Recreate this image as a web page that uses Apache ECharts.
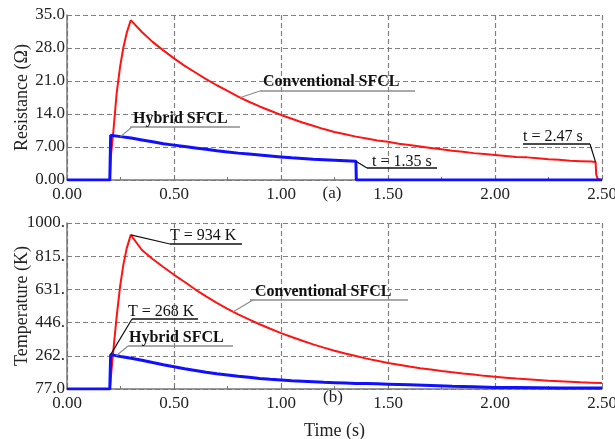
<!DOCTYPE html>
<html>
<head>
<meta charset="utf-8">
<script src="https://cdn.jsdelivr.net/npm/echarts@6/dist/echarts.min.js"></script>
<style>
  html, body { margin: 0; padding: 0; background: #fff; }
  #chart { width: 615px; height: 439px; }
</style>
</head>
<body>
<div id="chart"></div>
<script>
// Time axis (s)
const timeTicks = [0, 0.5, 1.0, 1.5, 2.0, 2.5];
const timeTickLabels = ['0.00', '0.50', '1.00', '1.50', '2.00', '2.50'];

// Resistance axis (Ω)
const resTicks = [0, 7, 14, 21, 28, 35];
const resTickLabels = ['0.00', '7.00', '14.0', '21.0', '28.0', '35.0'];

// Temperature axis (K)
const tempTicks = [77, 261.6, 446.2, 630.8, 815.4, 1000];
const tempTickLabels = ['77.0', '262.', '446.', '631.', '815.', '1000.'];

// Resistance of the conventional SFCL, [t (s), R (Ω)]
const resConventional = [
  [0, 0], [0.2, 0], [0.205, 5], [0.216, 10], [0.232, 18.4], [0.248, 24], [0.263, 28],
  [0.279, 31.2], [0.298, 33.9], [0.35, 31.4], [0.40, 29.3], [0.45, 27.5], [0.50, 25.8],
  [0.55, 24.2], [0.60, 22.8], [0.65, 21.4], [0.70, 20.1], [0.75, 18.9], [0.80, 17.7],
  [0.85, 16.6], [0.90, 15.6], [0.95, 14.7], [1.00, 13.8], [1.05, 13.0], [1.10, 12.2],
  [1.15, 11.5], [1.20, 10.8], [1.25, 10.2], [1.30, 9.7], [1.35, 9.2], [1.40, 8.8],
  [1.45, 8.4], [1.50, 8.1], [1.55, 7.7], [1.60, 7.4], [1.65, 7.1], [1.70, 6.8],
  [1.75, 6.5], [1.80, 6.2], [1.85, 6.0], [1.90, 5.7], [1.95, 5.5], [2.00, 5.3],
  [2.05, 5.1], [2.10, 4.9], [2.15, 4.8], [2.20, 4.6], [2.25, 4.4], [2.30, 4.3],
  [2.35, 4.1], [2.40, 4.0], [2.45, 3.9], [2.47, 3.8], [2.473, 1.2], [2.48, 0.2], [2.50, 0]
];

// Resistance of the hybrid SFCL, [t (s), R (Ω)]
const resHybrid = [
  [0, 0], [0.2, 0], [0.204, 9.5], [0.25, 9.2], [0.30, 8.9], [0.35, 8.5], [0.40, 8.1],
  [0.45, 7.7], [0.50, 7.4], [0.55, 7.1], [0.60, 6.8], [0.65, 6.5], [0.70, 6.2],
  [0.75, 5.95], [0.80, 5.7], [0.85, 5.5], [0.90, 5.3], [0.95, 5.1], [1.00, 4.9],
  [1.05, 4.7], [1.10, 4.55], [1.15, 4.4], [1.20, 4.3], [1.25, 4.2], [1.30, 4.1],
  [1.35, 4.0], [1.352, 0], [2.50, 0]
];

// Temperature of the conventional SFCL, [t (s), T (K)]
const tempConventional = [
  [0, 77], [0.2, 77], [0.216, 284], [0.232, 479], [0.248, 646], [0.263, 766],
  [0.279, 859], [0.298, 934], [0.35, 850], [0.40, 800], [0.45, 755], [0.50, 712],
  [0.55, 672], [0.60, 630], [0.65, 592], [0.70, 556], [0.75, 523], [0.80, 492],
  [0.85, 464], [0.90, 437], [0.95, 412], [1.00, 388], [1.05, 366], [1.10, 345],
  [1.15, 325], [1.20, 307], [1.25, 290], [1.30, 274], [1.35, 260], [1.40, 246],
  [1.45, 234], [1.50, 222], [1.55, 212], [1.60, 202], [1.65, 193], [1.70, 185],
  [1.75, 177], [1.80, 170], [1.85, 163], [1.90, 157], [1.95, 150], [2.00, 145],
  [2.05, 140], [2.10, 135], [2.15, 131], [2.20, 127], [2.25, 123], [2.30, 120],
  [2.35, 117], [2.40, 114], [2.45, 112], [2.50, 110]
];

// Temperature of the hybrid SFCL, [t (s), T (K)]
const tempHybrid = [
  [0, 77], [0.2, 77], [0.204, 268], [0.25, 258], [0.30, 248], [0.35, 237], [0.40, 224],
  [0.45, 212], [0.50, 201], [0.55, 190], [0.60, 180], [0.65, 170], [0.70, 162],
  [0.75, 155], [0.80, 148], [0.85, 142], [0.90, 136], [0.95, 131], [1.00, 127],
  [1.05, 123], [1.10, 120], [1.15, 117], [1.20, 114], [1.25, 112], [1.30, 110],
  [1.35, 108], [1.40, 107], [1.45, 106], [1.50, 104], [1.60, 100], [1.70, 96],
  [1.80, 92], [1.90, 89], [2.00, 86], [2.10, 85], [2.20, 84], [2.30, 83],
  [2.40, 82], [2.50, 82]
];

const FONT = '"Liberation Serif", "Times New Roman", serif';
const RED = '#ff1414';
const BLUE = '#1010ff';
const GRID_LINE = { show: true, lineStyle: { color: '#808080', width: 1.2, type: [5, 3] } };

function xAxisFor(gridIndex, withName) {
  return {
    type: 'value', gridIndex, min: 0, max: 2.5, interval: 0.5,
    axisLine: { show: true, onZero: false, lineStyle: { color: '#777', width: 1.5 } },
    axisTick: { show: true, inside: true, length: 4, lineStyle: { color: '#777' } },
    minorTick: { show: true, splitNumber: 2, length: 3, lineStyle: { color: '#777' } },
    axisLabel: {
      margin: 6, color: '#222', fontFamily: FONT, fontSize: 17,
      formatter: v => timeTickLabels[timeTicks.findIndex(t => Math.abs(t - v) < 1e-6)] ?? ''
    },
    splitLine: GRID_LINE,
    name: withName ? 'Time (s)' : '',
    nameLocation: 'middle', nameGap: 33, nameMoveOverlap: false,
    nameTextStyle: { color: '#222', fontFamily: FONT, fontSize: 18, verticalAlign: 'top' }
  };
}

const chart = echarts.init(document.getElementById('chart'), null, { renderer: 'canvas' });

chart.setOption({
  animation: false,
  backgroundColor: '#fff',
  grid: [
    { left: 67, top: 15, width: 535, height: 165, outerBoundsMode: 'none', containLabel: false },
    { left: 67, top: 223, width: 535, height: 166, outerBoundsMode: 'none', containLabel: false }
  ],
  xAxis: [xAxisFor(0, false), xAxisFor(1, true)],
  yAxis: [
    {
      type: 'value', gridIndex: 0, min: 0, max: 35, interval: 7,
      axisLine: { show: true, lineStyle: { color: '#777', width: 1.5 } },
      axisTick: { show: true, inside: true, length: 3, lineStyle: { color: '#777' } },
      axisLabel: {
        margin: 2, color: '#222', fontFamily: FONT, fontSize: 17,
        formatter: v => resTickLabels[resTicks.indexOf(v)] ?? ''
      },
      splitLine: GRID_LINE,
      name: 'Resistance (Ω)', nameLocation: 'middle', nameGap: 36, nameRotate: 90,
      nameMoveOverlap: false,
      nameTextStyle: { color: '#222', fontFamily: FONT, fontSize: 18 }
    },
    {
      type: 'value', gridIndex: 1, min: 77, max: 1000,
      axisLine: { show: true, lineStyle: { color: '#777', width: 1.5 } },
      axisTick: { show: true, inside: true, length: 3, customValues: tempTicks, lineStyle: { color: '#777' } },
      axisLabel: {
        margin: 2, color: '#222', fontFamily: FONT, fontSize: 17, customValues: tempTicks,
        formatter: v => tempTickLabels[tempTicks.findIndex(t => Math.abs(t - v) < 1e-6)] ?? ''
      },
      splitLine: GRID_LINE,
      name: 'Temperature (K)', nameLocation: 'middle', nameGap: 36, nameRotate: 90,
      nameMoveOverlap: false,
      nameTextStyle: { color: '#222', fontFamily: FONT, fontSize: 18 }
    }
  ],
  series: [
    { name: 'Conventional SFCL', type: 'line', xAxisIndex: 0, yAxisIndex: 0, data: resConventional,
      showSymbol: false, lineStyle: { color: RED, width: 2 }, z: 3 },
    { name: 'Hybrid SFCL', type: 'line', xAxisIndex: 0, yAxisIndex: 0, data: resHybrid,
      showSymbol: false, lineStyle: { color: BLUE, width: 3 }, z: 4 },
    { name: 'Conventional SFCL', type: 'line', xAxisIndex: 1, yAxisIndex: 1, data: tempConventional,
      showSymbol: false, lineStyle: { color: RED, width: 2 }, z: 3 },
    { name: 'Hybrid SFCL', type: 'line', xAxisIndex: 1, yAxisIndex: 1, data: tempHybrid,
      showSymbol: false, lineStyle: { color: BLUE, width: 3 }, z: 4 }
  ]
});

// Callout layout: anchor on a curve (data coords), elbow + underline + text (pixels)
const peakConv = tempConventional.reduce((a, b) => (b[1] > a[1] ? b : a));
const peakHyb = tempHybrid.reduce((a, b) => (b[1] > a[1] ? b : a));
const hybOff = resHybrid[resHybrid.findIndex(p => p[1] === 0 && p[0] > 0.2) - 1];
const convOff = resConventional[resConventional.length - 4];

const callouts = [
  { grid: 0, at: [0.81, 17.5], elbow: [260, 91], under: [260, 415], text: 'Conventional SFCL', tx: 263, ty: 82, bold: true, line: '#8c8c8c' },
  { grid: 0, at: [0.25, 9.2], elbow: [132, 127], under: [130, 240], text: 'Hybrid SFCL', tx: 133, ty: 119, bold: true, line: '#8c8c8c' },
  { grid: 0, at: hybOff, elbow: [367, 168], under: [367, 437], text: 't = ' + hybOff[0].toFixed(2) + ' s', tx: 372, ty: 162, bold: false, line: '#111' },
  { grid: 0, at: convOff, elbow: [590, 144], under: [523, 590], text: 't = ' + convOff[0].toFixed(2) + ' s', tx: 523, ty: 137, bold: false, line: '#111' },
  { grid: 1, at: peakConv, elbow: [170, 244], under: [170, 242], text: 'T = ' + peakConv[1] + ' K', tx: 170, ty: 236, bold: false, line: '#111' },
  { grid: 1, at: peakHyb, elbow: [132, 319], under: [132, 198], text: 'T = ' + peakHyb[1] + ' K', tx: 128, ty: 312, bold: false, line: '#111' },
  { grid: 1, at: [0.23, 262], elbow: [128, 346], under: [128, 233], text: 'Hybrid SFCL', tx: 129, ty: 338, bold: true, line: '#8c8c8c' },
  { grid: 1, at: [0.777, 506], elbow: [253, 300], under: [250, 408], text: 'Conventional SFCL', tx: 255, ty: 292, bold: true, line: '#8c8c8c' }
];

const graphics = [];
callouts.forEach(c => {
  const p = chart.convertToPixel({ gridIndex: c.grid }, c.at);
  graphics.push({
    type: 'polyline', z: 20, silent: true,
    shape: { points: [p, c.elbow] },
    style: { stroke: c.line, lineWidth: 1.2, fill: null }
  });
  graphics.push({
    type: 'line', z: 20, silent: true,
    shape: { x1: c.under[0], y1: c.elbow[1], x2: c.under[1], y2: c.elbow[1] },
    style: { stroke: c.line, lineWidth: 1.3 }
  });
  graphics.push({
    type: 'text', z: 21, silent: true,
    style: {
      x: c.tx, y: c.ty, text: c.text, fill: '#111',
      font: (c.bold ? 'bold ' : '') + '16px ' + FONT,
      align: 'left', verticalAlign: 'middle'
    }
  });
});

// Panel tags
graphics.push({ type: 'text', z: 21, silent: true,
  style: { x: 332, y: 194, text: '(a)', fill: '#222', font: '17px ' + FONT, align: 'center', verticalAlign: 'middle' } });
graphics.push({ type: 'text', z: 21, silent: true,
  style: { x: 333, y: 398, text: '(b)', fill: '#222', font: '17px ' + FONT, align: 'center', verticalAlign: 'middle' } });

chart.setOption({ graphic: graphics });
</script>
</body>
</html>
